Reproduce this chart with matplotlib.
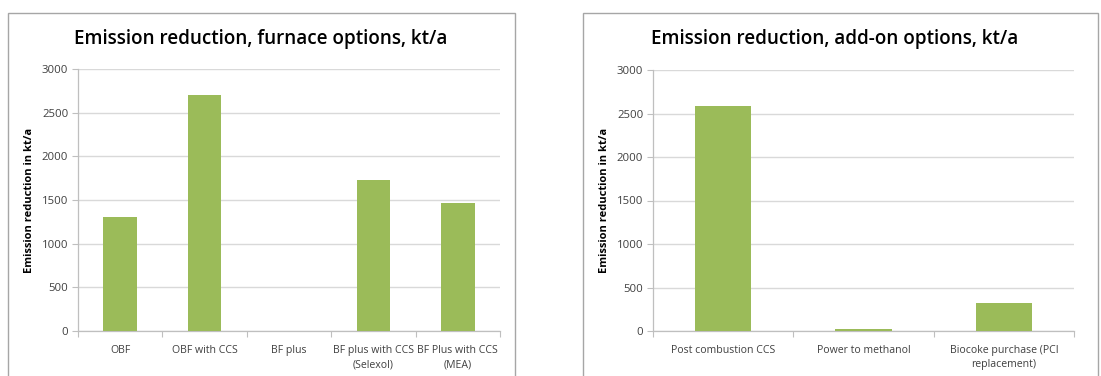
import matplotlib
matplotlib.use("Agg")
import matplotlib.pyplot as plt
from matplotlib.patches import Rectangle
import numpy as np

plt.rcParams['font.family'] = ['Open Sans', 'DejaVu Sans']

furnace_options = ["OBF", "OBF with CCS", "BF plus", "BF plus with CCS\n(Selexol)", "BF Plus with CCS\n(MEA)"]
furnace_values = [1300, 2700, 0, 1725, 1460]

addon_options = ["Post combustion CCS", "Power to methanol", "Biocoke purchase (PCI\nreplacement)"]
addon_values = [2590, 28, 325]

y_ticks = [0, 500, 1000, 1500, 2000, 2500, 3000]

BAR = "#9bbb59"
GRID = "#d9d9d9"
TXT = "#404040"

fig = plt.figure(figsize=(11.01, 3.76), dpi=100)

# chart frames
for x0, x1 in [(8, 515), (583, 1098)]:
    fig.patches.append(Rectangle((x0 / 1101, -0.05), (x1 - x0) / 1101, 1 - 13 / 376 + 0.05,
                                 transform=fig.transFigure, fill=False,
                                 edgecolor="#a6a6a6", linewidth=1.0))


def draw(ax, cats, vals, title, title_x):
    n = len(cats)
    x = np.arange(n)
    ax.bar(x, vals, width=0.4, color=BAR, zorder=3)
    ax.set_xlim(-0.5, n - 0.5)
    ax.set_ylim(0, 3000)
    ax.set_yticks(y_ticks)
    ax.set_yticklabels([str(v) for v in y_ticks], fontsize=8.2, color=TXT)
    ax.set_xticks(x)
    ax.set_xticklabels(cats, fontsize=7.6, color=TXT, linespacing=1.45)
    ax.set_xticks(np.arange(n + 1) - 0.5, minor=True)
    ax.tick_params(axis='x', which='major', length=0, pad=10)
    ax.tick_params(axis='x', which='minor', length=4, color="#bfbfbf", width=0.8)
    ax.tick_params(axis='y', length=4, color="#bfbfbf", width=0.8, pad=3)
    ax.grid(axis='y', color=GRID, linewidth=1.0, zorder=0)
    for s in ['top', 'right']:
        ax.spines[s].set_visible(False)
    for s in ['left', 'bottom']:
        ax.spines[s].set_color("#bfbfbf")
        ax.spines[s].set_linewidth(0.9)
    ax.set_ylabel("Emission reduction in kt/a", fontsize=8, fontweight='bold',
                  color="black", labelpad=5)
    fig.text(title_x, 1 - 39 / 376, title, fontsize=13.6, ha='center', va='center',
             color="black", fontweight='semibold')


ax1 = fig.add_axes([78 / 1101, 45 / 376, 422 / 1101, 262 / 376])
draw(ax1, furnace_options, furnace_values,
     "Emission reduction, furnace options, kt/a", 261 / 1101)

ax2 = fig.add_axes([653 / 1101, 45 / 376, 421 / 1101, 261 / 376])
draw(ax2, addon_options, addon_values,
     "Emission reduction, add-on options, kt/a", 835 / 1101)

fig.savefig("out.png", dpi=100)
